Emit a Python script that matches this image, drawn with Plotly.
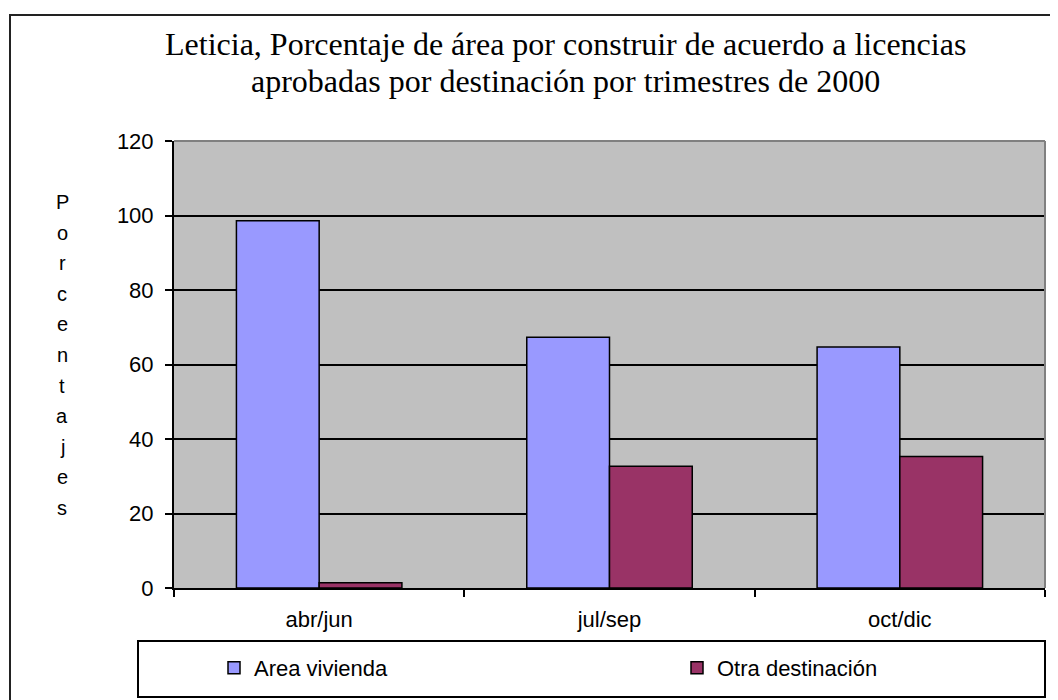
import plotly.graph_objects as go

# data
trimestres = ['abr/jun', 'jul/sep', 'oct/dic']
area_vivienda = [98.6, 67.3, 64.7]
otra_destinacion = [1.4, 32.7, 35.3]
y_ticks = [0, 20, 40, 60, 80, 100, 120]

titulo_1 = 'Leticia, Porcentaje de área por construir de acuerdo a licencias'
titulo_2 = 'aprobadas por destinación por trimestres de 2000'
eje_y = 'Porcentajes'

# the page body adds an 8px margin, so the figure is drawn 8px smaller
OFF = 8
W, H = 1058 - OFF, 700 - OFF
L, R, T, B = 174 - OFF, W - (1045 - OFF), 141 - OFF, H - (588 - OFF)
plot_w = W - L - R
plot_h = H - T - B


# positions are given in screen pixels of the target picture
def px_x(px):
    return (px - OFF - L) / plot_w


def px_y(py):
    return (H - B - (py - OFF)) / plot_h


fig = go.Figure()

fig.add_trace(go.Bar(
    x=trimestres,
    y=area_vivienda,
    name='Area vivienda',
    legend='legend',
    showlegend=True,
    marker=dict(color='#9999FF', line=dict(color='black', width=1.5))
))

fig.add_trace(go.Bar(
    x=trimestres,
    y=otra_destinacion,
    name='Otra destinación',
    legend='legend2',
    showlegend=True,
    marker=dict(color='#993366', line=dict(color='black', width=1.5))
))

# two-line serif title
for texto, cy in [(titulo_1, 44), (titulo_2, 81)]:
    fig.add_annotation(
        text=texto, x=px_x(565), y=px_y(cy),
        xref='paper', yref='paper', showarrow=False,
        xanchor='center', yanchor='middle',
        font=dict(family='Liberation Serif', size=32, color='black')
    )

# vertical stacked axis title, one letter per line
for i, letra in enumerate(eje_y):
    fig.add_annotation(
        text=letra, x=px_x(62), y=px_y(202 + 30.6 * i),
        xref='paper', yref='paper', showarrow=False,
        xanchor='center', yanchor='middle',
        font=dict(family='Liberation Sans', size=20, color='black')
    )

shapes = [
    # outer chart frame
    dict(type='rect', xref='paper', yref='paper',
         x0=px_x(10), x1=px_x(1080), y0=px_y(720), y1=px_y(15),
         line=dict(color='#222222', width=2), layer='below'),
    # legend box
    dict(type='rect', xref='paper', yref='paper',
         x0=px_x(138), x1=px_x(1045), y0=px_y(697), y1=px_y(641),
         line=dict(color='black', width=2)),
    # gray plot-area border, top and right
    dict(type='line', xref='paper', yref='paper', x0=0, x1=1, y0=1, y1=1,
         line=dict(color='#808080', width=2)),
    dict(type='line', xref='paper', yref='paper', x0=1, x1=1, y0=0, y1=1,
         line=dict(color='#808080', width=2)),
]

legend_font = dict(family='Liberation Sans', size=22, color='black')

fig.update_layout(
    width=W, height=H,
    margin=dict(l=L, r=R, t=T, b=B, autoexpand=False),
    showlegend=True,
    paper_bgcolor='white',
    plot_bgcolor='#C0C0C0',
    barmode='group',
    bargap=0.43,
    bargroupgap=0,
    xaxis=dict(
        type='category',
        tickson='boundaries',
        ticks='outside', ticklen=7, tickwidth=1.5, tickcolor='black',
        showline=True, linecolor='black', linewidth=2,
        showgrid=False,
        tickfont=dict(family='Liberation Sans', size=22, color='black'),
        ticklabelstandoff=11
    ),
    yaxis=dict(
        range=[0, 120],
        tickvals=y_ticks,
        ticks='outside', ticklen=7, tickwidth=1.5, tickcolor='black',
        showline=True, linecolor='black', linewidth=2,
        showgrid=True, gridcolor='black', gridwidth=1.6,
        zeroline=False,
        tickfont=dict(family='Liberation Sans', size=22, color='black'),
        ticklabelstandoff=7
    ),
    legend=dict(
        orientation='h', visible=True,
        x=px_x(214), y=px_y(668), xanchor='left', yanchor='middle',
        bgcolor='rgba(0,0,0,0)', borderwidth=0,
        font=legend_font
    ),
    legend2=dict(
        orientation='h', visible=True,
        x=px_x(677), y=px_y(668), xanchor='left', yanchor='middle',
        bgcolor='rgba(0,0,0,0)', borderwidth=0,
        font=legend_font
    ),
    shapes=shapes
)

fig.write_html("out.html")
